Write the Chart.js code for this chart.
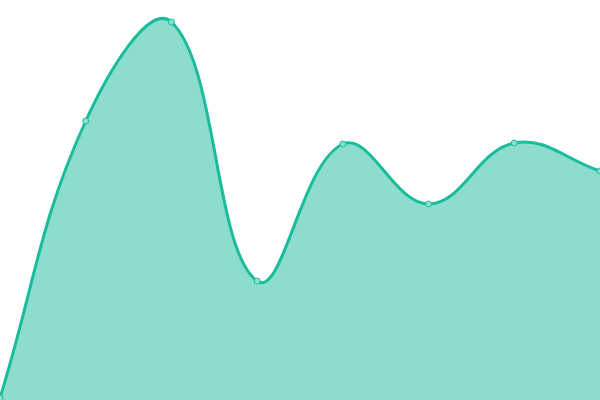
<!DOCTYPE html>
<html>
<head>
<meta charset="utf-8">
<script src="https://cdn.jsdelivr.net/npm/chart.js@4/dist/chart.umd.min.js"></script>
<style>
html,body{margin:0;padding:0;background:#fff;}
#wrap{width:600px;height:400px;}
</style>
</head>
<body>
<div id="wrap"><canvas id="c"></canvas></div>
<script>
const categories = ["1","2","3","4","5","6","7","8"];
const values = [2, 279, 378, 119, 256, 196, 257, 229];

new Chart(document.getElementById('c'), {
  type: 'line',
  data: {
    labels: categories,
    datasets: [{
      data: values,
      borderColor: '#1abc9c',
      backgroundColor: 'rgba(26,188,156,0.5)',
      fill: true,
      tension: 0.4,
      borderWidth: 3,
      pointRadius: 3,
      pointBorderWidth: 1,
      pointBackgroundColor: 'rgba(141,224,207,1)',
      pointBorderColor: '#1abc9c'
    }]
  },
  options: {
    responsive: true,
    maintainAspectRatio: false,
    animation: false,
    layout: { padding: 0, autoPadding: false },
    plugins: { legend: { display: false }, tooltip: { enabled: false } },
    scales: {
      x: { display: false, offset: false },
      y: { display: false, min: 0, max: 400 }
    }
  }
});
</script>
</body>
</html>
